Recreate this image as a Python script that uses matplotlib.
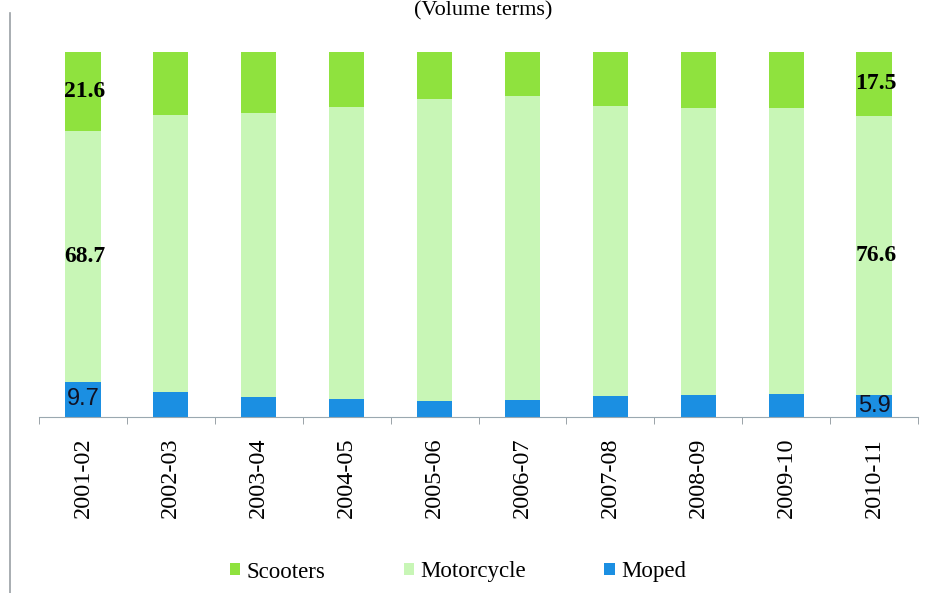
import numpy as np
import matplotlib.pyplot as plt
from matplotlib.lines import Line2D

years = ["2001-02", "2002-03", "2003-04", "2004-05", "2005-06",
         "2006-07", "2007-08", "2008-09", "2009-10", "2010-11"]
scooters = [21.6, 17.3, 16.6, 15.0, 13.0, 12.1, 14.7, 15.4, 15.4, 17.5]
moped = [9.7, 6.8, 5.4, 4.8, 4.4, 4.6, 5.8, 6.0, 6.3, 5.9]
motorcycle = [68.7, 75.9, 78.0, 80.2, 82.6, 83.3, 79.5, 78.6, 78.3, 76.6]

c_scoot = "#8fe23e"
c_moto = "#c8f6b6"
c_moped = "#1b8fe2"

serif = "Liberation Serif"

fig = plt.figure(figsize=(9.46, 5.93), dpi=100)
ax = fig.add_axes([39 / 946, 176 / 593, 879 / 946, 365 / 593])

x = np.arange(len(years))
w = 0.4
moped = np.array(moped)
motorcycle = np.array(motorcycle)
scooters = np.array(scooters)
ax.bar(x, moped, w, color=c_moped, label="Moped")
ax.bar(x, motorcycle, w, bottom=moped, color=c_moto, label="Motorcycle")
ax.bar(x, scooters, w, bottom=moped + motorcycle, color=c_scoot, label="Scooters")

ax.set_xlim(-0.5, len(years) - 0.5)
ax.set_ylim(0, 100)
for s in ["top", "right", "left"]:
    ax.spines[s].set_visible(False)
ax.spines["bottom"].set_color("#9aa8b0")
ax.set_yticks([])

ax.set_xticks(x)
ax.set_xticklabels(years, rotation=90, fontsize=17.5, family=serif)
ax.tick_params(axis="x", which="major", length=0, pad=15)
ax.set_xticks(np.arange(-0.5, len(years)), minor=True)
ax.tick_params(axis="x", which="minor", length=5, color="#8a949a")

# value labels on the first and last bars
for i in [0, len(years) - 1]:
    ax.text(x[i] + 0.02, moped[i] + motorcycle[i] + scooters[i] / 2, f"{scooters[i]:.1f}",
            ha="center", va="center", fontsize=17, fontweight="bold", family=serif)
    ax.text(x[i] + 0.02, moped[i] + motorcycle[i] / 2, f"{motorcycle[i]:.1f}",
            ha="center", va="center", fontsize=17, fontweight="bold", family=serif)
    ax.text(x[i], moped[i] / 2, f"{moped[i]:.1f}",
            ha="center", va="center", fontsize=17, family="Liberation Sans", color="#111122")

handles, labels = ax.get_legend_handles_labels()
leg = fig.legend(handles[::-1], labels[::-1], loc="center", bbox_to_anchor=(458 / 946, 1 - 572 / 593),
                 ncol=3, frameon=False, prop={"family": serif, "size": 16.5},
                 handlelength=0.45, handleheight=0.45, handletextpad=0.3, columnspacing=3.4)

fig.text(483 / 946, 1 - 15 / 593, "(Volume terms)", ha="center", va="baseline",
         fontsize=16, family=serif)

fig.add_artist(Line2D([10 / 946, 10 / 946], [0, 1 - 13 / 593], color="#9aa0a4", lw=1.2))

fig.savefig("out.png", dpi=100)
